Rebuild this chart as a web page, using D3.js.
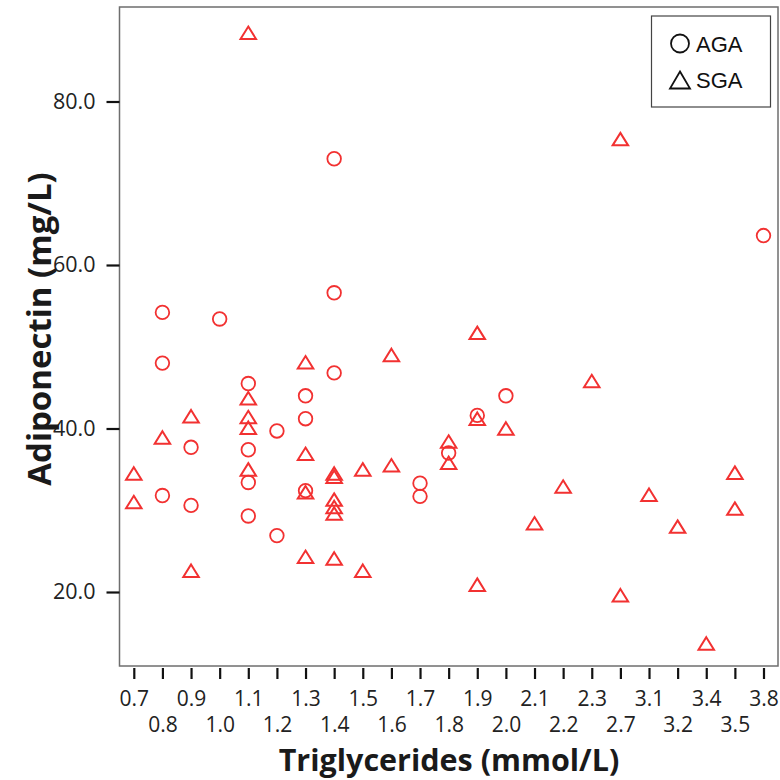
<!DOCTYPE html>
<html>
<head>
<meta charset="utf-8">
<script src="https://cdn.jsdelivr.net/npm/d3@7"></script>
<style>
  body { margin: 0; background: #fff; }
  svg { display: block; }
</style>
</head>
<body>
<div id="chart"></div>
<script>
// Categorías del eje X (triglicéridos, mmol/L)
const categories = ["0.7", "0.8", "0.9", "1.0", "1.1", "1.2", "1.3", "1.4", "1.5", "1.6", "1.7",
  "1.8", "1.9", "2.0", "2.1", "2.2", "2.3", "2.7", "3.1", "3.2", "3.4", "3.5", "3.8"];

// AGA: [triglicéridos, adiponectina]
const agaPoints = [
  ["0.8", 54.2], ["0.8", 48.0], ["0.8", 31.8],
  ["0.9", 37.7], ["0.9", 30.6],
  ["1.0", 53.4],
  ["1.1", 45.5], ["1.1", 37.4], ["1.1", 33.4], ["1.1", 29.3],
  ["1.2", 39.7], ["1.2", 26.9],
  ["1.3", 44.0], ["1.3", 41.2], ["1.3", 32.4],
  ["1.4", 73.0], ["1.4", 56.6], ["1.4", 46.8],
  ["1.7", 33.3], ["1.7", 31.7],
  ["1.8", 37.0],
  ["1.9", 41.6],
  ["2.0", 44.0],
  ["3.8", 63.6]
];

// SGA: [triglicéridos, adiponectina]
const sgaPoints = [
  ["0.7", 34.5], ["0.7", 31.0],
  ["0.8", 38.9],
  ["0.9", 41.5], ["0.9", 22.6],
  ["1.1", 88.4], ["1.1", 43.7], ["1.1", 41.4], ["1.1", 40.1], ["1.1", 35.0],
  ["1.3", 48.1], ["1.3", 36.9], ["1.3", 32.2], ["1.3", 24.3],
  ["1.4", 34.5], ["1.4", 34.1], ["1.4", 31.3], ["1.4", 30.4], ["1.4", 29.6], ["1.4", 24.1],
  ["1.5", 35.0], ["1.5", 22.6],
  ["1.6", 49.0], ["1.6", 35.5],
  ["1.8", 38.4], ["1.8", 35.8],
  ["1.9", 51.7], ["1.9", 41.2], ["1.9", 20.9],
  ["2.0", 40.0],
  ["2.1", 28.4],
  ["2.2", 32.9],
  ["2.3", 45.8],
  ["2.7", 75.4], ["2.7", 19.6],
  ["3.1", 31.9],
  ["3.2", 28.0],
  ["3.4", 13.7],
  ["3.5", 34.6], ["3.5", 30.2]
];

const yTicks = [20, 40, 60, 80];
const legendItems = ["AGA", "SGA"];

const width = 780, height = 780;
const frame = {left: 119.5, top: 7, right: 778, bottom: 666};
const red = "#f23131";
const font = "'Open Sans', 'Noto Sans', sans-serif";

const svg = d3.select("#chart").append("svg")
  .attr("width", width)
  .attr("height", height);

// Escalas
const x = d3.scalePoint()
  .domain(categories)
  .range([133.8, 763.5]);

const y = d3.scaleLinear()
  .domain([20, 80])
  .range([592, 101.5]);

// Triángulo centrado en su caja
function trianglePath(w, h) {
  return `M0,${-h / 2}L${w / 2},${h / 2}L${-w / 2},${h / 2}Z`;
}

// Marco del área del gráfico
svg.append("rect")
  .attr("x", frame.left)
  .attr("y", frame.top)
  .attr("width", frame.right - frame.left)
  .attr("height", frame.bottom - frame.top)
  .attr("fill", "none")
  .attr("stroke", "#6e6e6e")
  .attr("stroke-width", 1.5);

// Eje Y
const yAxis = svg.append("g")
  .attr("transform", `translate(${frame.left}, 0)`)
  .call(d3.axisLeft(y).tickValues(yTicks).tickFormat(d3.format(".1f")).tickSize(13).tickPadding(11));
yAxis.select(".domain").remove();
yAxis.selectAll(".tick line").attr("stroke", "#111").attr("stroke-width", 2.2);
yAxis.selectAll(".tick text")
  .attr("font-family", font)
  .attr("font-size", 21.5)
  .attr("fill", "#222");

// Eje X
const xAxis = svg.append("g")
  .attr("transform", `translate(0, ${frame.bottom + 2})`)
  .call(d3.axisBottom(x).tickSize(11));
xAxis.select(".domain").remove();
xAxis.selectAll(".tick line").attr("stroke", "#111").attr("stroke-width", 2.2);
xAxis.selectAll(".tick text")
  .attr("font-family", font)
  .attr("font-size", 21)
  .attr("fill", "#222")
  .attr("dy", null)
  .attr("y", (d, i) => i % 2 === 0 ? 37.5 : 64);

// Títulos de los ejes
svg.append("text")
  .attr("x", 449)
  .attr("y", 771)
  .attr("text-anchor", "middle")
  .attr("font-family", font)
  .attr("font-weight", "bold")
  .attr("font-size", 30.5)
  .attr("fill", "#1a1a1a")
  .text("Triglycerides (mmol/L)");

svg.append("text")
  .attr("transform", "translate(51, 329) rotate(-90)")
  .attr("text-anchor", "middle")
  .attr("font-family", font)
  .attr("font-weight", "bold")
  .attr("font-size", 33)
  .attr("fill", "#1a1a1a")
  .text("Adiponectin (mg/L)");

// Puntos AGA (círculos)
svg.append("g").selectAll("circle")
  .data(agaPoints)
  .join("circle")
  .attr("cx", d => x(d[0]))
  .attr("cy", d => y(d[1]))
  .attr("r", 6.8)
  .attr("fill", "none")
  .attr("stroke", red)
  .attr("stroke-width", 1.8);

// Puntos SGA (triángulos)
svg.append("g").selectAll("path")
  .data(sgaPoints)
  .join("path")
  .attr("transform", d => `translate(${x(d[0])}, ${y(d[1])})`)
  .attr("d", trianglePath(15.5, 12.5))
  .attr("fill", "none")
  .attr("stroke", red)
  .attr("stroke-width", 2)
  .attr("stroke-linejoin", "miter");

// Leyenda
const legend = svg.append("g");
legend.append("rect")
  .attr("x", 651.5)
  .attr("y", 16)
  .attr("width", 119)
  .attr("height", 91)
  .attr("fill", "#fff")
  .attr("stroke", "#444")
  .attr("stroke-width", 1.2);

legend.append("circle")
  .attr("cx", 680)
  .attr("cy", 43.5)
  .attr("r", 9)
  .attr("fill", "none")
  .attr("stroke", "#111")
  .attr("stroke-width", 1.8);

legend.append("path")
  .attr("transform", "translate(680, 80)")
  .attr("d", trianglePath(20, 17))
  .attr("fill", "none")
  .attr("stroke", "#111")
  .attr("stroke-width", 1.8);

legend.selectAll("text")
  .data(legendItems)
  .join("text")
  .attr("x", 696)
  .attr("y", (d, i) => 51.5 + i * 36.5)
  .attr("font-family", "'Liberation Sans', Arial, sans-serif")
  .attr("font-size", 22)
  .attr("fill", "#111")
  .text(d => d);
</script>
</body>
</html>
